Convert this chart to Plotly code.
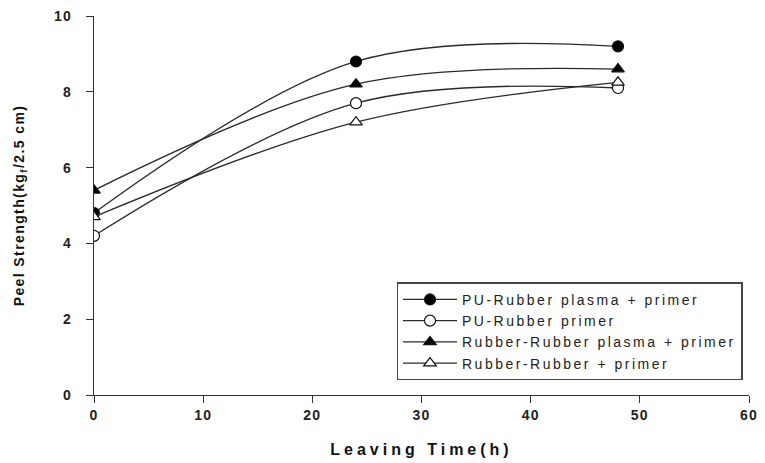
import plotly.graph_objects as go

# Leaving time (h) and peel strength (kgf/2.5 cm) for each bonding system
hours = [0, 24, 48]
pu_plasma_primer = [4.8, 8.8, 9.2]
pu_primer = [4.2, 7.7, 8.1]
rr_plasma_primer = [5.4, 8.2, 8.6]
rr_primer = [4.7, 7.2, 8.25]

series = [
    ("PU-Rubber plasma + primer", pu_plasma_primer, "circle", "black"),
    ("PU-Rubber primer", pu_primer, "circle", "white"),
    ("Rubber-Rubber plasma + primer", rr_plasma_primer, "triangle-up", "black"),
    ("Rubber-Rubber + primer", rr_primer, "triangle-up", "white"),
]

fig = go.Figure()
for name, vals, sym, fill in series:
    fig.add_trace(go.Scatter(
        x=hours, y=vals, name=name, mode="lines+markers",
        line=dict(color="#2a2a2a", width=1.3, shape="spline", smoothing=1.0),
        marker=dict(symbol=sym, size=11, color=fill,
                    line=dict(color="#111111", width=1.2)),
    ))

tick_font = dict(family="Arial", size=14, color="#222222", weight="bold")
title_font = dict(family="Arial", size=16, color="#111111", weight="bold")

fig.update_layout(
    width=765, height=463,
    margin=dict(l=94, r=8, t=16, b=67),
    paper_bgcolor="white", plot_bgcolor="white",
    font=dict(family="Arial", color="#222222"),
    xaxis=dict(
        range=[0, 60], dtick=10, tick0=0,
        showline=True, linecolor="#333333", linewidth=1.4,
        ticks="outside", ticklen=7, tickwidth=1.3, tickcolor="#333333",
        ticklabelstandoff=0,
        showgrid=False, zeroline=False, tickfont=tick_font,
        title=dict(text="Leaving Time(h)", font=title_font, standoff=21),
    ),
    yaxis=dict(
        range=[0, 10], dtick=2, tick0=0,
        showline=True, linecolor="#333333", linewidth=1.4,
        ticks="outside", ticklen=7, tickwidth=1.3, tickcolor="#333333",
        ticklabelstandoff=11,
        showgrid=False, zeroline=False, tickfont=tick_font,
        title=dict(text="Peel Strength(kg<sub>f</sub>/2.5 cm)",
                   font=dict(family="Arial", size=14, color="#111111",
                             weight="bold"),
                   standoff=28),
    ),
    legend=dict(
        x=0.462, y=0.297, xanchor="left", yanchor="top",
        bordercolor="#444444", borderwidth=1.4, bgcolor="white",
        font=dict(family="Arial", size=14, color="#222222"),
        tracegroupgap=0, itemwidth=54,
    ),
    showlegend=True,
)

# widen the lettering of axis titles, tick labels and legend entries,
# then redraw so the legend box is sized with the wider text
spacing_js = (
    "var st=document.createElement('style');"
    "st.textContent='.xtitle{letter-spacing:4px}.ytitle{letter-spacing:1.4px}"
    ".xtick text,.ytick text{letter-spacing:1.2px}"
    ".legendtext{letter-spacing:2.5px}';"
    "document.head.appendChild(st);"
    "var gd=document.getElementById('{plot_id}');"
    "Plotly.relayout(gd,{'legend.font.size':14.01});"
)

fig.write_html("out.html", post_script=spacing_js)
